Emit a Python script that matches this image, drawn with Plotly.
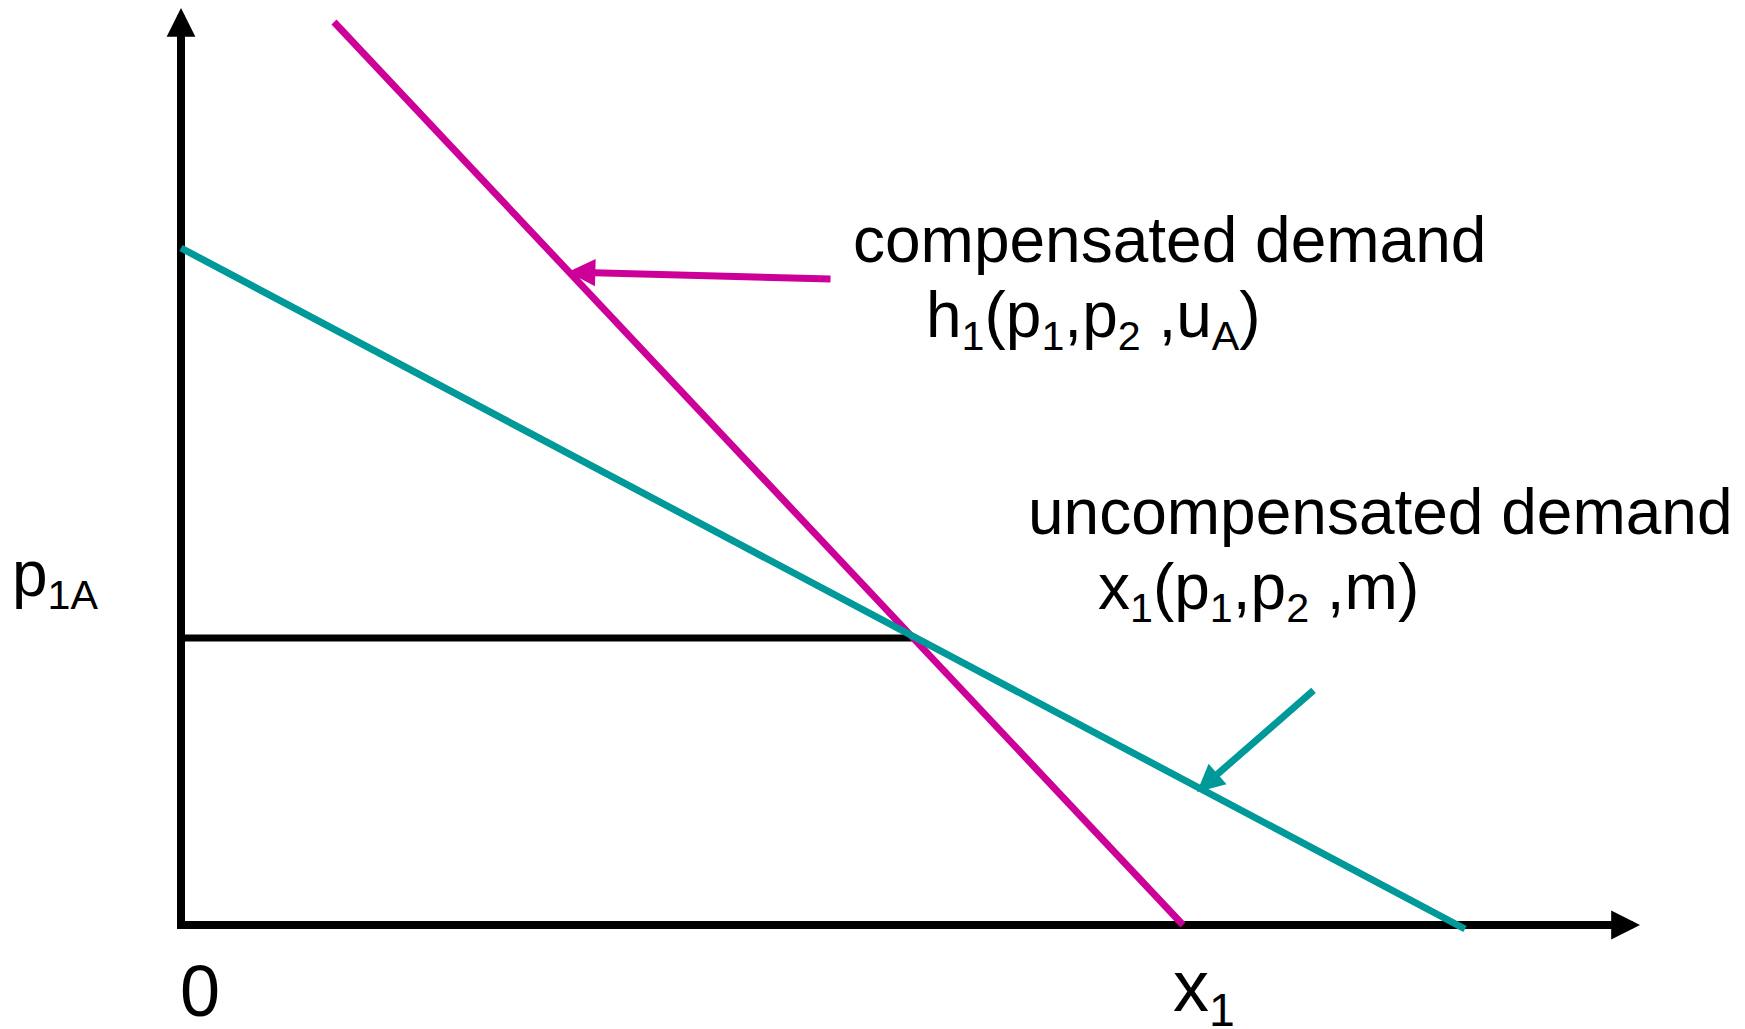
import plotly.graph_objects as go

# ---- data (economic units: quantity x1, price p1) ----
comp_x = [1.53, 10.02]        # compensated demand h1
comp_p = [9.03, 0.0]
uncomp_x = [0.0, 12.84]       # uncompensated demand x1
uncomp_p = [6.77, -0.04]
p1A_level = [2.87, 2.87]      # price p1A
p1A_x = [0.0, 7.32]
axis_x_end = 14.59
axis_y_end = 9.17

comp_ptr_tail = (6.51, 6.46)
comp_ptr_tip = (3.87, 6.53)
unc_ptr_tail = (11.34, 2.36)
unc_ptr_tip = (10.16, 1.33)

MAGENTA = "#CC0099"
TEAL = "#009999"
BLACK = "#000000"
FONT = "Liberation Sans, Arial, sans-serif"

fig = go.Figure()

# axes lines (drawn from data)
fig.add_trace(go.Scatter(x=[0, 0], y=[-0.04, axis_y_end - 0.2], mode="lines",
                         line=dict(color=BLACK, width=8), hoverinfo="skip"))
fig.add_trace(go.Scatter(x=[-0.04, axis_x_end - 0.2], y=[0, 0], mode="lines",
                         line=dict(color=BLACK, width=8), hoverinfo="skip"))
# p1A horizontal
fig.add_trace(go.Scatter(x=p1A_x, y=p1A_level, mode="lines",
                         line=dict(color=BLACK, width=7), hoverinfo="skip"))
# demand curves
fig.add_trace(go.Scatter(x=comp_x, y=comp_p, mode="lines",
                         line=dict(color=MAGENTA, width=7), hoverinfo="skip"))
fig.add_trace(go.Scatter(x=uncomp_x, y=uncomp_p, mode="lines",
                         line=dict(color=TEAL, width=7), hoverinfo="skip"))

annotations = []
# axis arrow heads
annotations.append(dict(x=0, y=axis_y_end, ax=0, ay=axis_y_end - 0.5,
                        xref="x", yref="y", axref="x", ayref="y", text="",
                        showarrow=True, arrowhead=2, arrowsize=0.72, arrowwidth=8,
                        arrowcolor=BLACK, standoff=0))
annotations.append(dict(x=axis_x_end, y=0, ax=axis_x_end - 0.5, ay=0,
                        xref="x", yref="y", axref="x", ayref="y", text="",
                        showarrow=True, arrowhead=2, arrowsize=0.72, arrowwidth=8,
                        arrowcolor=BLACK, standoff=0))
# pointer arrows
annotations.append(dict(x=comp_ptr_tip[0], y=comp_ptr_tip[1],
                        ax=comp_ptr_tail[0], ay=comp_ptr_tail[1],
                        xref="x", yref="y", axref="x", ayref="y", text="",
                        showarrow=True, arrowhead=2, arrowsize=0.78, arrowwidth=7,
                        arrowcolor=MAGENTA, standoff=0))
annotations.append(dict(x=unc_ptr_tip[0], y=unc_ptr_tip[1],
                        ax=unc_ptr_tail[0], ay=unc_ptr_tail[1],
                        xref="x", yref="y", axref="x", ayref="y", text="",
                        showarrow=True, arrowhead=2, arrowsize=0.78, arrowwidth=7,
                        arrowcolor=TEAL, standoff=0))

def label(x, y, text, size=64, anchor="left"):
    annotations.append(dict(x=x, y=y, xref="x", yref="y", text=text, showarrow=False,
                            xanchor=anchor, yanchor="middle",
                            font=dict(family=FONT, size=size, color=BLACK)))

SUB = '<sub><span style="font-size:92%;color:#000000">{}</span></sub>'
label(6.70, 6.855, "compensated demand")
label(7.43, 6.065, "h" + SUB.format("1") + "(p" + SUB.format("1") + ",p" + SUB.format("2")
      + " ,u" + SUB.format("A") + ")")
label(8.45, 4.135, "uncompensated demand")
label(9.15, 3.345, "x" + SUB.format("1") + "(p" + SUB.format("1") + ",p" + SUB.format("2") + " ,m)")
label(-1.71, 3.47, "p" + SUB.format("1A"), size=64)
label(-0.03, -0.66, "0", size=72)
label(9.90, -0.66, "x" + SUB.format("1"), size=72)

# the page adds an 8px body margin; ranges are offset so marks land where intended
fig.update_layout(
    width=1745, height=1029,
    margin=dict(l=0, r=0, t=0, b=0),
    paper_bgcolor="white", plot_bgcolor="white",
    showlegend=False,
    xaxis=dict(range=[-1.73, 15.72], visible=False, fixedrange=True),
    yaxis=dict(range=[-1.12, 9.17], visible=False, fixedrange=True),
    annotations=annotations,
)

fig.write_html("out.html")
